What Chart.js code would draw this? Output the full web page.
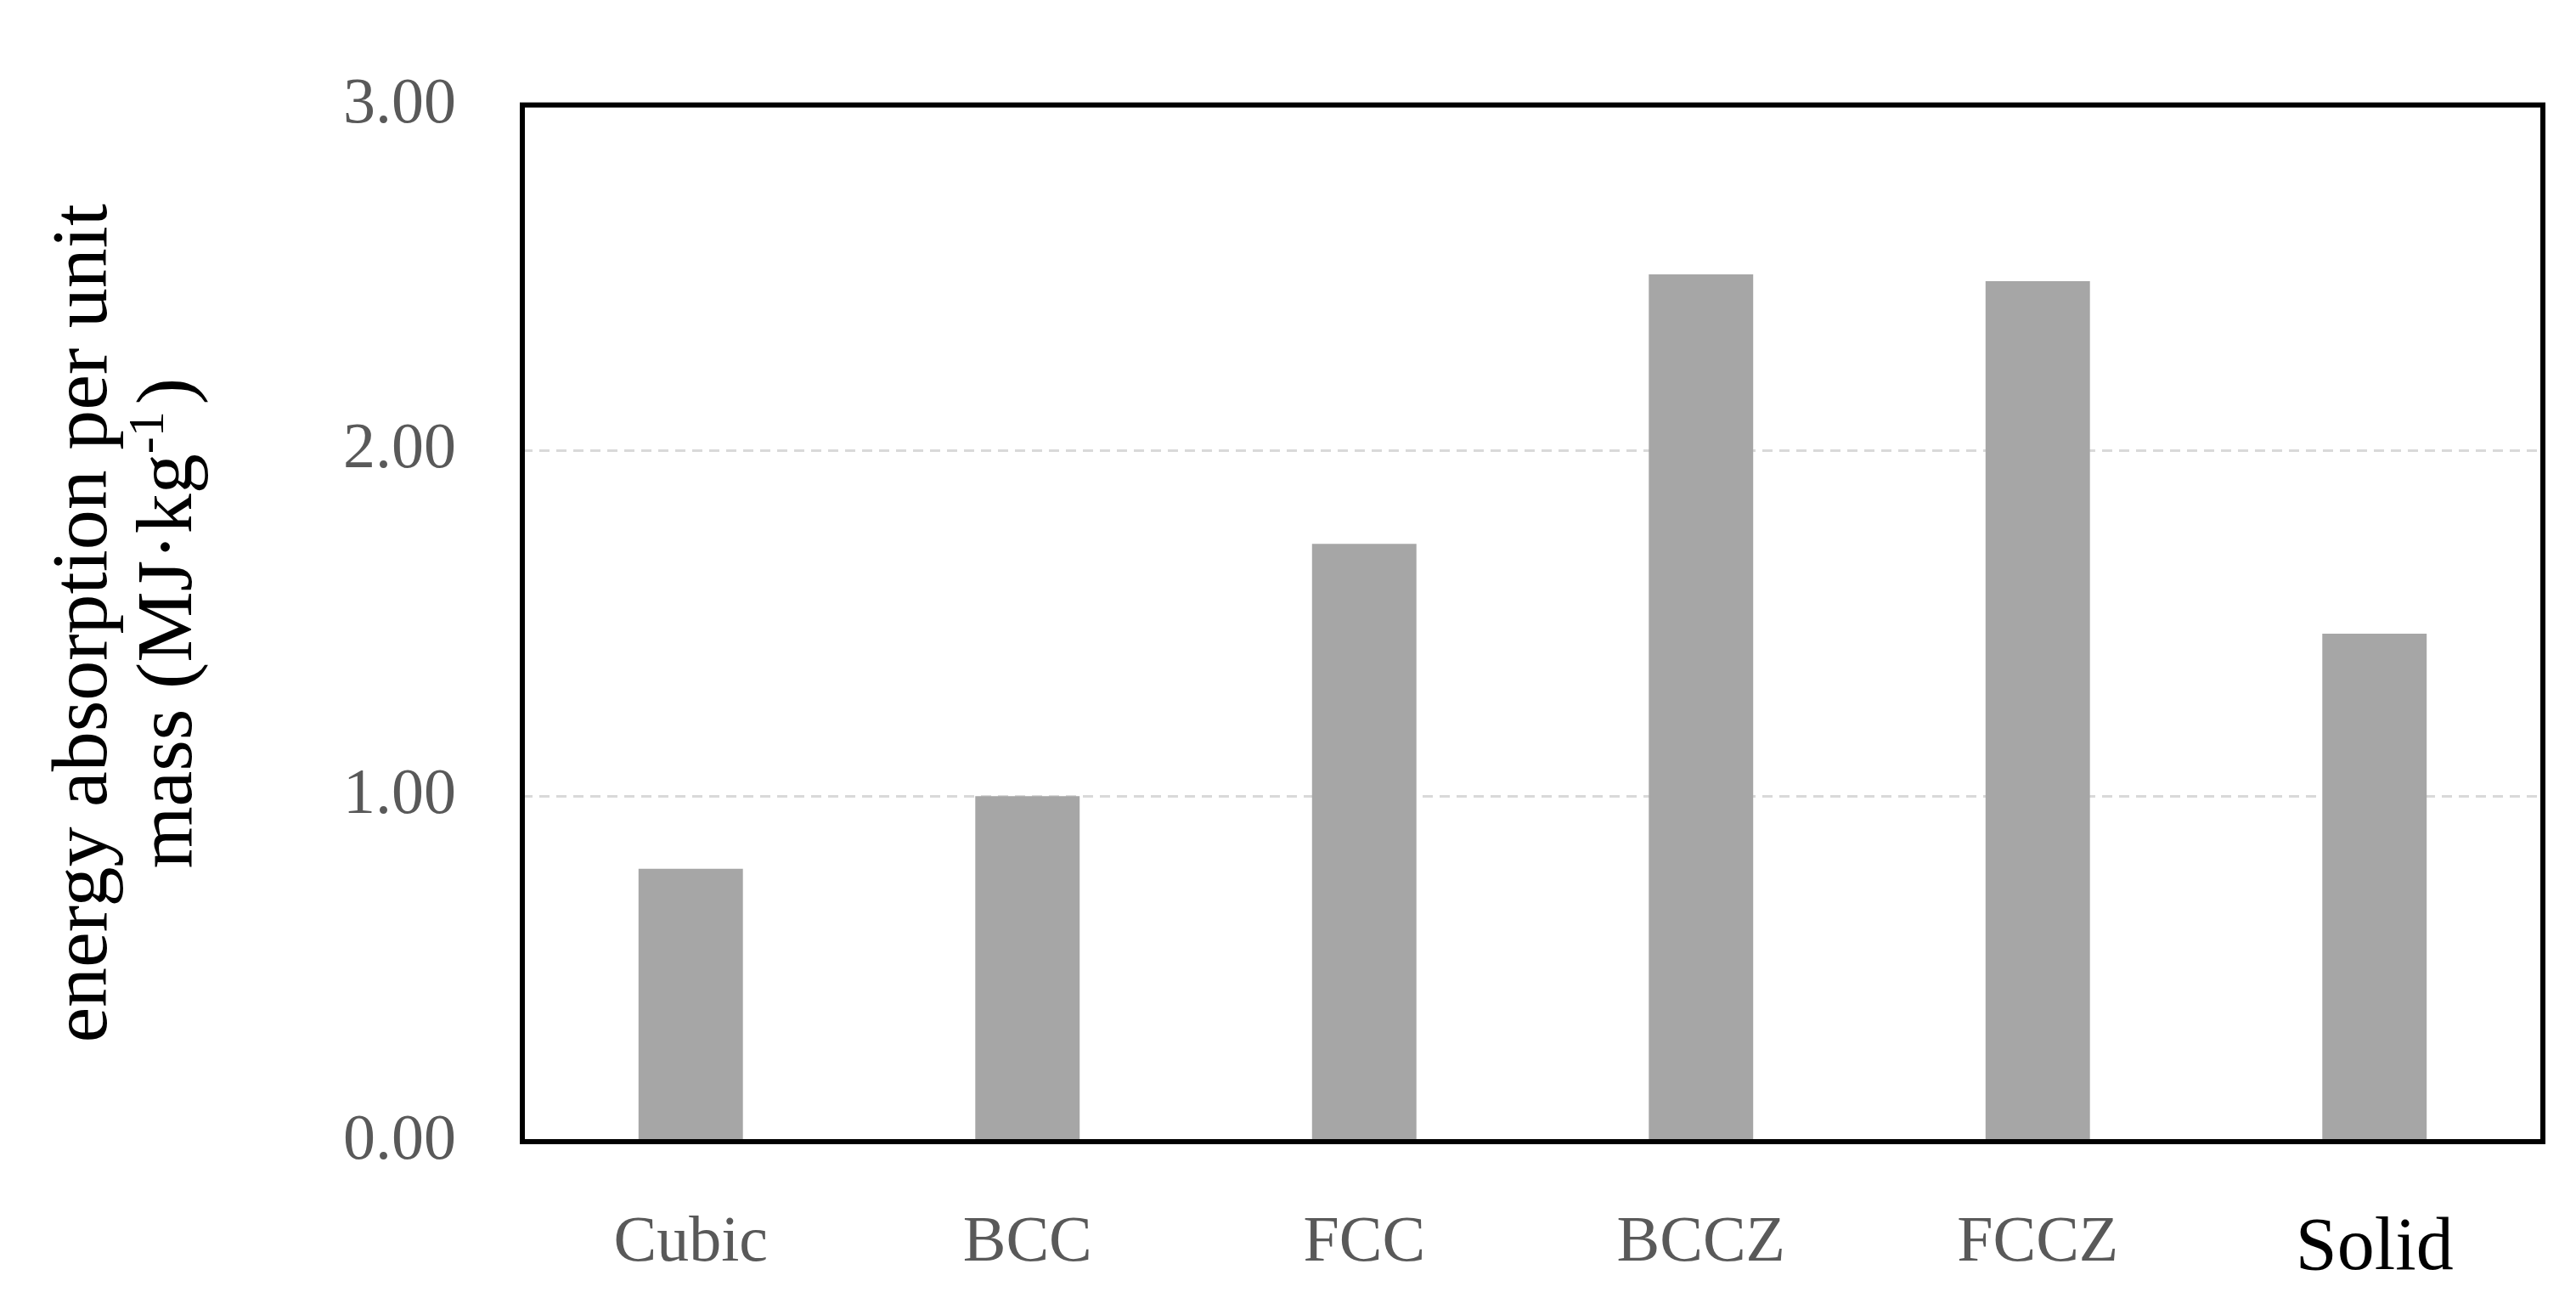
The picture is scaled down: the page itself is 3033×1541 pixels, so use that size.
<!DOCTYPE html>
<html>
<head>
<meta charset="utf-8">
<script src="https://cdn.jsdelivr.net/npm/chart.js@4"></script>
<style>
  html, body { margin: 0; padding: 0; background: #fff; }
  #wrap { width: 3033px; height: 1541px; }
</style>
</head>
<body>
<div id="wrap"><canvas id="chart"></canvas></div>
<script>
// chart data
const categories = ['Cubic', 'BCC', 'FCC', 'BCCZ', 'FCCZ', 'Solid'];
const energyValues = [0.79, 1.00, 1.73, 2.51, 2.49, 1.47];
const yTicks = [0, 1, 2, 3];

const serif = '"Liberation Serif", "DejaVu Serif", serif';

// black frame around the plot area
const framePlugin = {
    id: 'frame',
    afterDraw(chart) {
        const { ctx, chartArea: a } = chart;
        ctx.save();
        ctx.strokeStyle = '#000';
        ctx.lineWidth = 6;
        ctx.strokeRect(a.left, a.top, a.right - a.left, a.bottom - a.top);
        ctx.restore();
    }
};

// two-line rotated y title
const yTitlePlugin = {
    id: 'yTitle',
    afterDraw(chart) {
        const { ctx, chartArea: a } = chart;
        const cy = (a.top + a.bottom) / 2;
        const big = '94px ' + serif, small = '60px ' + serif;
        ctx.save();
        ctx.fillStyle = '#000';
        ctx.textBaseline = 'middle';
        ctx.translate(100, cy);
        ctx.rotate(-Math.PI / 2);
        ctx.font = big;
        ctx.textAlign = 'center';
        ctx.fillText('energy absorption per unit', 0, 0);
        const part = 'mass (MJ\u00b7kg';
        const pw = ctx.measureText(part).width;
        ctx.font = small;
        const sw = ctx.measureText('-1').width;
        ctx.font = big;
        const cw = ctx.measureText(')').width;
        const total = pw + sw + cw + 8;
        let x = -total / 2;
        ctx.textAlign = 'left';
        ctx.fillText(part, x, 100);
        x += pw;
        ctx.font = small;
        ctx.fillText('-1', x, 76);
        x += sw + 8;
        ctx.font = big;
        ctx.fillText(')', x, 100);
        ctx.restore();
    }
};

new Chart(document.getElementById('chart'), {
    type: 'bar',
    data: {
        labels: categories,
        datasets: [{
            data: energyValues,
            backgroundColor: '#a6a6a6',
            barPercentage: 0.31,
            categoryPercentage: 1.0
        }]
    },
    options: {
        responsive: true,
        maintainAspectRatio: false,
        animation: false,
        layout: { padding: { top: 52, right: 39, left: 0, bottom: 0 } },
        plugins: { legend: { display: false }, tooltip: { enabled: false } },
        scales: {
            x: {
                grid: { display: false },
                border: { display: false },
                ticks: {
                    padding: 66,
                    color: ctx => ctx.index === 5 ? '#000' : '#595959',
                    font: ctx => ({ family: serif, size: ctx.index === 5 ? 88 : 76 })
                },
                afterFit(scale) { scale.height = 197; }
            },
            y: {
                min: 0,
                max: 3,
                afterBuildTicks(scale) { scale.ticks = yTicks.map(v => ({ value: v })); },
                grid: {
                    color: ctx => (ctx.tick.value === 1 || ctx.tick.value === 2) ? '#d9d9d9' : 'rgba(0,0,0,0)',
                    lineWidth: 3,
                    drawTicks: false
                },
                border: { display: false, dash: [12, 8] },
                ticks: {
                    padding: 78,
                    color: '#595959',
                    font: { family: serif, size: 76 },
                    callback: v => v.toFixed(2)
                },
                afterFit(scale) { scale.width = 615; }
            }
        }
    },
    plugins: [framePlugin, yTitlePlugin]
});
</script>
</body>
</html>
